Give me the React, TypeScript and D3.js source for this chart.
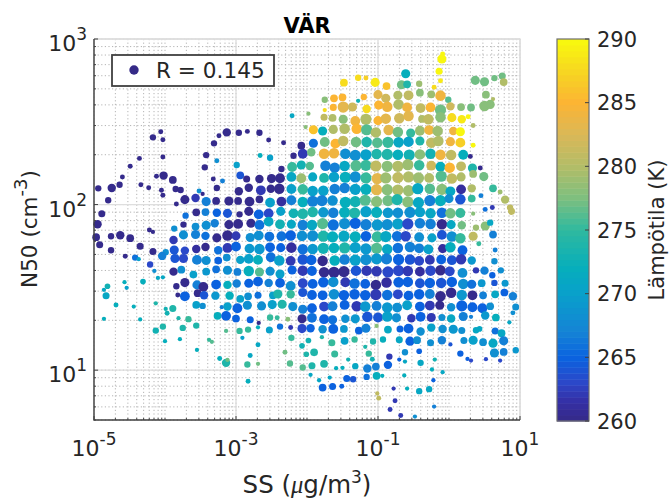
import React, { useEffect, useRef } from 'react';
import * as d3 from 'd3';

// every point: [log10 SS, log10 N50, temperature K, marker size]
type Pt = [number, number, number, number];

const upperLeft: Pt[] = [
  [-4.06,2.44,260,6],[-4.17,2.406,260,8],[-4.03,2.392,260,6],[-3.13,2.436,260,11],[-2.96,2.434,260,8],[-2.84,2.442,260,6],[-2.67,2.434,260,8],[-3.24,2.416,260,6],[-3.31,2.37,260,8],[-2.54,2.39,260,6],[-2.33,2.374,260,6],[-3.42,2.299,260,8],[-4.03,2.287,260,6],[-4.36,2.279,260,6],[-4.49,2.231,260,6],[-3.44,2.225,260,8],[-3.27,2.265,268,6],[-2.99,2.239,270,8],[-2.66,2.297,272,6],[-2.52,2.283,270,8],[-2.36,2.215,260,8],[-2.19,2.295,260,8],[-2.21,2.537,271,6],
];
const leftRow215: Pt[] = [
  [-4.6,2.167,260,6],[-4.12,2.171,260,6],[-4.02,2.175,260,11],[-3.89,2.149,260,10],[-3.32,2.155,260,6],[-3.19,2.143,267,6],[-2.94,2.177,264,10],[-2.85,2.155,260,9],[-2.67,2.155,260,11],[-2.5,2.157,260,12],[-2.38,2.159,260,13],[-2.22,2.167,271,13],[-2.21,2.227,275,13],
];
const leftRow210: Pt[] = [
  [-4.94,2.098,260,8],[-4.75,2.1,260,11],[-4.64,2.12,260,8],[-4.34,2.12,260,6],[-4.23,2.102,260,6],[-4.05,2.086,260,6],[-3.85,2.094,260,8],[-3.78,2.088,260,8],[-3.27,2.1,260,8],[-3.52,2.082,268,6],[-3.47,2.064,260,5],[-2.96,2.08,260,11],[-2.82,2.102,260,11],[-2.65,2.086,262,13],[-2.51,2.096,260,11],[-2.39,2.096,260,14],[-2.22,2.094,270,13],
];
const leftRow202: Pt[] = [
  [-4.8,2.026,260,8],[-4.03,2.056,260,6],[-3.84,2.004,260,6],[-3.72,2.03,260,12],[-3.57,2.04,262,11],[-3.42,2.018,267,12],[-3.28,2.022,260,10],[-3.1,2.022,260,12],[-2.97,2.022,260,10],[-2.81,2.018,260,13],[-2.67,2.032,260,10],[-2.52,2.012,270,13],[-2.36,2.018,261,13],[-2.22,2.026,267,13],
];
const leftRow195: Pt[] = [
  [-4.89,1.945,260,9],[-3.71,1.933,266,8],[-3.56,1.953,260,10],[-3.43,1.955,267,10],[-3.27,1.951,265,11],[-3.12,1.947,264,12],[-2.95,1.941,260,8],[-2.82,1.959,260,12],[-2.68,1.941,265,13],[-2.54,1.947,263,13],[-2.37,1.959,270,12],[-2.19,1.947,273,13],
];
const leftRow188: Pt[] = [
  [-4.95,1.881,260,11],[-3.74,1.879,260,8],[-3.57,1.867,268,10],[-3.42,1.875,268,12],[-3.3,1.887,267,11],[-3.1,1.879,260,12],[-2.97,1.883,260,13],[-2.79,1.887,260,12],[-2.67,1.877,266,13],[-2.54,1.897,271,13],[-2.38,1.881,273,13],[-2.22,1.881,271,12],[-3.87,1.855,268,8],
];
const leftRow181: Pt[] = [
  [-4.22,1.847,260,6],[-4.17,1.835,260,5],[-4.97,1.803,260,10],[-4.76,1.809,260,8],[-4.63,1.815,260,11],[-4.49,1.797,260,10],[-3.88,1.786,262,11],[-3.74,1.817,268,12],[-3.57,1.819,267,12],[-3.43,1.811,266,11],[-3.27,1.799,260,12],[-3.12,1.813,260,14],[-3.0,1.811,262,12],[-2.8,1.801,268,12],[-2.68,1.813,268,13],[-2.53,1.807,266,13],[-2.36,1.809,266,13],[-2.23,1.813,265,14],
];
const leftRow173: Pt[] = [
  [-4.92,1.758,260,9],[-4.76,1.724,260,8],[-4.35,1.748,260,9],[-4.17,1.716,260,9],[-3.99,1.712,268,8],[-4.04,1.69,267,11],[-3.87,1.726,264,12],[-3.72,1.722,263,11],[-3.56,1.732,261,11],[-3.43,1.744,260,11],[-3.25,1.724,266,11],[-3.12,1.738,262,13],[-3.0,1.746,265,13],[-2.81,1.734,269,13],[-2.67,1.732,269,14],[-2.52,1.742,265,13],[-2.37,1.74,265,12],[-2.22,1.74,261,14],
];
const leftRow167: Pt[] = [
  [-4.56,1.688,260,6],[-4.42,1.68,266,8],[-4.37,1.67,270,5],[-3.86,1.674,264,12],[-3.74,1.674,263,12],[-3.55,1.666,267,13],[-3.42,1.662,268,12],[-3.25,1.662,265,10],[-3.13,1.68,268,10],[-2.94,1.666,270,11],[-2.82,1.672,270,13],[-2.69,1.666,272,13],[-2.51,1.682,266,13],[-2.39,1.662,270,14],[-2.23,1.66,262,13],
];
const leftRow160: Pt[] = [
  [-4.21,1.638,263,8],[-4.15,1.599,268,5],[-3.88,1.595,260,11],[-3.77,1.607,268,10],[-3.6,1.577,270,10],[-3.42,1.595,269,10],[-3.28,1.609,266,10],[-3.12,1.603,268,12],[-2.98,1.593,267,10],[-2.82,1.599,272,14],[-2.67,1.593,276,12],[-2.52,1.597,268,12],[-2.38,1.581,270,12],[-2.21,1.605,265,12],
];
const leftRow152: Pt[] = [
  [-4.1,1.557,271,5],[-4.03,1.561,271,5],[-4.31,1.535,272,7],[-4.57,1.531,272,5],[-4.81,1.507,273,7],[-4.86,1.485,271,5],[-4.54,1.497,270,5],[-3.84,1.507,260,8],[-3.72,1.529,260,12],[-3.55,1.515,267,12],[-3.46,1.503,260,13],[-3.28,1.517,265,13],[-3.12,1.515,272,11],[-2.99,1.523,267,11],[-2.82,1.525,265,12],[-2.69,1.535,265,13],[-2.54,1.527,267,11],[-2.38,1.527,265,13],[-2.23,1.509,268,13],
];
const leftRow145: Pt[] = [
  [-4.83,1.45,271,9],[-3.82,1.454,260,6],[-3.72,1.446,265,13],[-3.54,1.465,260,10],[-3.45,1.452,264,11],[-3.29,1.45,269,11],[-3.09,1.45,272,11],[-2.94,1.43,270,10],[-2.83,1.446,268,10],[-2.69,1.452,266,9],[-2.48,1.452,270,10],[-2.41,1.46,274,12],[-2.23,1.458,275,11],
];
const leftRow138: Pt[] = [
  [-4.69,1.394,272,6],[-4.44,1.384,272,5],[-4.13,1.404,274,5],[-3.99,1.37,273,5],[-3.97,1.344,273,6],[-3.89,1.372,274,9],[-3.56,1.394,270,10],[-3.47,1.388,268,8],[-3.2,1.38,267,5],[-3.12,1.384,270,11],[-2.98,1.374,265,13],[-2.84,1.392,268,12],[-2.64,1.388,268,12],[-2.49,1.396,270,12],[-2.35,1.398,274,12],[-2.2,1.384,268,12],
];
const leftRow131: Pt[] = [
  [-4.86,1.31,272,5],[-4.35,1.306,272,5],[-3.81,1.314,274,5],[-3.67,1.308,275,8],[-3.26,1.328,272,10],[-3.14,1.328,265,13],[-3.0,1.312,265,10],[-2.8,1.304,265,9],[-2.68,1.285,260,5],[-2.52,1.318,275,8],[-2.42,1.316,275,6],[-2.27,1.308,278,6],
];
const leftRow125: Pt[] = [
  [-4.03,1.263,274,8],[-4.13,1.239,273,8],[-3.75,1.255,274,8],[-3.56,1.269,274,8],[-3.14,1.237,276,5],[-2.95,1.237,275,8],[-2.83,1.245,275,8],[-2.69,1.259,272,5],[-2.53,1.243,270,9],[-2.38,1.263,266,8],[-2.23,1.257,262,6],
];
const lowerLeft: Pt[] = [
  [-4.0,1.175,272,5],[-3.79,1.187,272,5],[-3.38,1.183,275,5],[-3.34,1.171,276,5],[-2.91,1.195,270,5],[-2.22,1.195,275,8],[-2.69,1.153,271,6],[-3.55,1.122,272,5],[-2.31,1.108,277,6],[-2.8,1.088,271,6],[-3.23,1.07,272,6],[-3.14,1.044,274,11],[-3.12,1.062,277,5],[-2.84,1.034,275,8],[-2.69,1.038,277,5],[-2.24,1.04,276,8],[-2.83,0.933,272,6],
];

const topRight: Pt[] = [
  [-0.61,2.79,272,12],[-0.09,2.909,290,6],[-0.1,2.879,290,12],[-0.14,2.805,290,9],[-0.12,2.748,289,6],[-0.21,2.708,288,6],[-1.28,2.766,288,8],[-1.17,2.764,287,6],[-1.48,2.736,288,10],[-1.04,2.738,289,12],[-0.88,2.716,286,10],[-0.67,2.724,277,12],[-0.59,2.726,274,10],[-0.42,2.73,279,8],[0.37,2.75,277,12],[0.5,2.742,277,12],[0.64,2.764,277,8],[0.75,2.776,277,9],[0.77,2.74,280,10],
  [-0.41,2.676,278,10],[-0.25,2.666,279,10],[-0.12,2.658,284,14],[-1.0,2.664,283,12],[-0.72,2.66,280,12],[-0.57,2.66,281,13],[-0.89,2.642,282,12],[-1.2,2.65,285,8],[-1.5,2.648,285,10],[-1.62,2.642,285,10],[-1.75,2.633,278,8],[-1.28,2.627,273,5],[-0.01,2.633,276,8],[0.52,2.664,278,10],[0.62,2.637,280,5],
];
const rightRow259: Pt[] = [
  [-1.63,2.587,285,9],[-1.49,2.589,283,15],[-1.36,2.589,282,12],[-1.75,2.571,288,5],[-1.16,2.577,288,11],[-0.99,2.601,285,12],[-0.87,2.591,284,14],[-0.71,2.605,280,14],[-0.59,2.587,284,13],[-0.4,2.583,281,13],[-0.26,2.587,285,13],[-0.12,2.571,277,15],[0.02,2.593,282,11],[0.17,2.589,278,10],[0.31,2.587,277,10],[0.5,2.595,278,14],[0.58,2.605,278,12],
];
const rightRow252: Pt[] = [
  [-1.98,2.549,278,5],[-1.76,2.527,281,9],[-1.64,2.523,280,10],[-1.49,2.515,278,12],[-1.32,2.505,284,13],[-1.17,2.515,280,15],[-1.0,2.507,285,12],[-0.89,2.519,283,14],[-0.7,2.521,282,14],[-0.57,2.535,283,14],[-0.38,2.517,280,10],[-0.29,2.515,281,14],[-0.12,2.527,278,14],[0.04,2.525,288,12],[0.18,2.515,289,11],[0.27,2.531,290,6],
];
const rightRow245: Pt[] = [
  [-2.02,2.468,278,5],[-1.91,2.452,286,12],[-1.78,2.444,272,12],[-1.63,2.454,280,12],[-1.47,2.458,280,14],[-1.3,2.458,285,14],[-1.16,2.452,276,15],[-1.03,2.436,280,14],[-0.85,2.45,283,14],[-0.72,2.438,277,14],[-0.54,2.432,275,12],[-0.41,2.446,279,13],[-0.28,2.45,284,13],[-0.16,2.444,279,14],[0.06,2.444,284,11],[0.16,2.44,290,12],[0.34,2.477,280,6],
];
const rightRow238: Pt[] = [
  [-2.08,2.356,260,10],[-1.91,2.37,266,12],[-1.75,2.378,277,13],[-1.6,2.368,285,13],[-1.49,2.384,281,14],[-1.31,2.378,277,14],[-1.16,2.378,274,14],[-1.01,2.374,276,14],[-0.86,2.376,275,15],[-0.71,2.376,271,14],[-0.57,2.38,270,14],[-0.41,2.384,274,12],[-0.25,2.374,281,14],[-0.15,2.384,280,14],[0.02,2.38,284,12],[0.16,2.374,287,13],[0.34,2.358,290,6],
];
const rightRow230: Pt[] = [
  [-2.06,2.307,262,13],[-1.94,2.316,277,11],[-1.76,2.307,284,14],[-1.62,2.31,284,14],[-1.46,2.307,268,14],[-1.32,2.297,268,15],[-1.17,2.301,270,15],[-1.02,2.305,274,14],[-0.87,2.303,274,15],[-0.72,2.301,272,14],[-0.56,2.299,273,15],[-0.41,2.303,278,14],[-0.26,2.307,273,14],[-0.12,2.301,284,14],[0.03,2.299,281,14],[0.2,2.301,272,13],[0.3,2.291,260,6],
];
const rightRow223: Pt[] = [
  [-2.08,2.239,273,12],[-1.96,2.233,276,11],[-1.74,2.235,267,14],[-1.61,2.223,267,14],[-1.47,2.233,271,14],[-1.31,2.235,276,15],[-1.17,2.237,275,15],[-1.03,2.233,281,15],[-0.87,2.231,278,15],[-0.72,2.231,280,15],[-0.58,2.241,279,15],[-0.42,2.237,275,14],[-0.25,2.235,282,13],[-0.12,2.229,272,13],[0.01,2.223,285,14],[0.17,2.231,281,13],[0.33,2.221,274,12],[0.44,2.221,260,6],[0.34,2.185,279,10],
];
const rightRow216: Pt[] = [
  [-2.08,2.159,279,13],[-1.92,2.167,271,12],[-1.76,2.161,274,13],[-1.62,2.167,270,14],[-1.46,2.165,272,15],[-1.32,2.167,268,15],[-1.17,2.161,275,15],[-1.01,2.157,283,15],[-0.89,2.161,279,15],[-0.72,2.163,281,15],[-0.57,2.167,280,15],[-0.43,2.161,279,15],[-0.28,2.161,280,13],[-0.11,2.171,276,15],[0.04,2.157,281,14],[0.17,2.167,280,12],[0.49,2.169,277,12],
];
const rightRow209: Pt[] = [
  [-2.06,2.092,275,14],[-1.92,2.082,270,14],[-1.77,2.084,270,14],[-1.61,2.094,267,14],[-1.47,2.1,267,14],[-1.32,2.092,270,15],[-1.17,2.092,272,15],[-1.02,2.09,283,15],[-0.87,2.09,278,15],[-0.72,2.088,280,15],[-0.57,2.084,279,15],[-0.44,2.096,271,15],[-0.27,2.096,276,14],[-0.1,2.092,278,15],[0.02,2.08,271,13],[0.17,2.092,261,13],[0.32,2.098,280,11],[0.62,2.098,275,10],[0.72,2.076,279,6],
];
const rightRow202: Pt[] = [
  [-2.06,2.016,272,14],[-1.92,2.02,267,15],[-1.79,2.024,267,15],[-1.64,2.024,268,14],[-1.46,2.014,272,15],[-1.32,2.018,273,15],[-1.18,2.026,276,15],[-1.02,2.018,278,15],[-0.86,2.024,277,15],[-0.73,2.03,274,15],[-0.58,2.016,278,15],[-0.43,2.012,271,15],[-0.27,2.024,267,15],[-0.12,2.024,272,15],[0.0,2.036,268,12],[0.16,2.032,264,14],[0.32,2.036,275,10],[0.45,2.054,267,6],[0.79,2.03,280,11],
];
const rightRow195: Pt[] = [
  [-2.06,1.945,274,14],[-1.92,1.955,274,14],[-1.77,1.953,269,14],[-1.63,1.951,267,14],[-1.47,1.953,272,15],[-1.33,1.949,274,15],[-1.17,1.957,270,15],[-1.02,1.953,272,15],[-0.86,1.951,269,14],[-0.72,1.951,268,14],[-0.55,1.953,268,15],[-0.41,1.955,270,14],[-0.26,1.947,271,14],[-0.1,1.951,266,14],[0.02,1.947,277,14],[0.16,1.949,275,13],[0.34,1.945,278,5],[0.51,1.971,266,6],[0.61,1.982,262,6],[0.86,1.982,281,8],[0.88,1.959,281,9],
];
const rightRow188: Pt[] = [
  [-2.06,1.877,267,14],[-1.93,1.877,271,14],[-1.78,1.885,276,15],[-1.63,1.877,266,15],[-1.47,1.885,268,15],[-1.32,1.887,265,15],[-1.17,1.879,267,15],[-1.01,1.877,269,15],[-0.87,1.879,268,15],[-0.72,1.883,270,15],[-0.58,1.883,263,15],[-0.41,1.887,267,14],[-0.26,1.883,267,14],[-0.1,1.881,260,14],[0.03,1.879,271,12],[0.18,1.875,277,11],[0.38,1.861,279,8],[0.51,1.871,278,12],[0.58,1.891,271,8],
];
const rightRow181: Pt[] = [
  [-2.07,1.811,268,14],[-1.92,1.811,268,15],[-1.77,1.809,274,15],[-1.64,1.805,272,15],[-1.48,1.809,271,15],[-1.32,1.805,272,15],[-1.17,1.809,265,14],[-1.01,1.805,275,15],[-0.89,1.807,271,15],[-0.73,1.809,266,14],[-0.61,1.809,263,14],[-0.42,1.803,268,13],[-0.24,1.799,270,12],[-0.1,1.817,264,13],[0.04,1.807,268,14],[0.16,1.797,275,14],[0.34,1.809,281,12],[0.62,1.819,267,10],[0.42,1.764,275,6],
];
const rightRow173: Pt[] = [
  [-2.06,1.73,266,14],[-1.92,1.732,269,14],[-1.77,1.736,273,15],[-1.62,1.738,272,14],[-1.47,1.738,274,15],[-1.32,1.74,270,15],[-1.17,1.732,269,15],[-1.02,1.736,276,15],[-0.87,1.73,271,14],[-0.72,1.738,266,14],[-0.55,1.744,267,14],[-0.42,1.736,267,13],[-0.29,1.73,270,13],[-0.09,1.734,261,12],[0.02,1.742,272,14],[0.19,1.724,265,13],[0.65,1.726,267,6],
];
const rightRow167: Pt[] = [
  [-2.06,1.668,264,14],[-1.94,1.666,265,14],[-1.78,1.66,260,14],[-1.61,1.662,272,14],[-1.47,1.668,267,14],[-1.32,1.664,270,15],[-1.17,1.668,268,15],[-1.02,1.672,269,15],[-0.88,1.672,267,15],[-0.71,1.668,265,15],[-0.55,1.668,264,14],[-0.42,1.66,263,13],[-0.27,1.666,262,13],[-0.11,1.668,265,13],[0.04,1.664,264,13],[0.17,1.67,262,14],[0.32,1.662,269,11],[0.64,1.658,268,8],
];
const rightRow160: Pt[] = [
  [-2.06,1.601,262,14],[-1.93,1.599,265,13],[-1.76,1.591,260,14],[-1.62,1.591,260,15],[-1.48,1.595,260,15],[-1.31,1.601,264,14],[-1.16,1.601,262,14],[-1.02,1.597,262,14],[-0.86,1.593,263,15],[-0.71,1.601,263,15],[-0.58,1.599,262,14],[-0.41,1.595,261,13],[-0.26,1.601,263,14],[-0.12,1.603,260,14],[0.01,1.597,263,13],[0.19,1.587,268,13],[0.38,1.603,262,8],[0.5,1.601,267,11],[0.61,1.573,265,8],[0.73,1.603,268,8],
];
const rightRow152: Pt[] = [
  [-2.06,1.525,263,13],[-1.92,1.521,265,13],[-1.77,1.531,265,14],[-1.63,1.533,268,14],[-1.46,1.531,262,13],[-1.33,1.523,266,14],[-1.18,1.521,265,13],[-1.03,1.515,260,14],[-0.88,1.529,261,14],[-0.71,1.531,265,14],[-0.58,1.533,265,14],[-0.41,1.525,264,13],[-0.27,1.527,265,14],[-0.11,1.527,264,14],[0.04,1.533,265,14],[0.2,1.521,268,14],[0.32,1.519,266,12],[0.46,1.525,269,10],[0.64,1.527,264,8],[0.79,1.525,269,9],
];
const rightRow145: Pt[] = [
  [-2.06,1.469,264,12],[-1.93,1.454,265,13],[-1.78,1.452,265,13],[-1.62,1.458,268,14],[-1.48,1.452,265,14],[-1.33,1.458,265,14],[-1.18,1.452,265,14],[-1.03,1.456,262,15],[-0.87,1.454,266,14],[-0.72,1.458,263,13],[-0.57,1.45,265,13],[-0.42,1.458,265,14],[-0.27,1.46,267,13],[-0.12,1.446,260,14],[0.03,1.467,260,14],[0.18,1.454,269,14],[0.33,1.452,260,13],[0.48,1.452,267,10],[0.65,1.458,271,10],[0.78,1.469,265,10],[0.9,1.446,267,11],
];
const rightRow138: Pt[] = [
  [-2.06,1.368,267,12],[-1.93,1.374,265,13],[-1.76,1.384,263,13],[-1.64,1.386,267,13],[-1.47,1.394,265,13],[-1.3,1.386,262,14],[-1.18,1.384,269,14],[-1.02,1.388,267,13],[-0.87,1.378,269,14],[-0.73,1.378,268,13],[-0.59,1.392,270,13],[-0.41,1.384,265,13],[-0.27,1.39,262,13],[-0.13,1.392,260,12],[0.03,1.38,268,11],[0.18,1.388,265,15],[0.33,1.38,265,13],[0.47,1.374,265,13],[0.58,1.386,268,10],[0.94,1.382,268,9],[0.9,1.346,268,6],[0.51,1.33,269,11],[0.66,1.318,272,10],[0.31,1.322,267,5],[0.85,1.289,271,5],
];
const rightRow131: Pt[] = [
  [-2.07,1.31,260,12],[-1.93,1.316,266,13],[-1.76,1.308,265,13],[-1.64,1.304,266,12],[-1.46,1.31,268,11],[-1.32,1.31,269,12],[-1.15,1.322,264,14],[-1.0,1.318,264,13],[-0.87,1.324,270,14],[-0.74,1.316,268,12],[-0.53,1.314,262,11],[-0.4,1.322,265,13],[-0.25,1.318,262,12],[-0.1,1.318,268,9],[0.03,1.312,271,11],[0.2,1.324,267,12],
];
const rightRow125: Pt[] = [
  [-2.07,1.251,263,12],[-1.95,1.253,265,11],[-1.78,1.247,268,11],[-1.63,1.249,265,13],[-1.48,1.249,269,10],[-1.27,1.239,265,10],[-1.17,1.253,267,12],[-1.02,1.267,278,5],[-0.86,1.245,271,10],[-0.69,1.249,265,9],[-0.57,1.251,265,13],[-0.4,1.233,268,11],[-0.25,1.257,270,11],[-0.09,1.249,268,11],[0.06,1.247,269,12],[0.18,1.239,268,9],[0.38,1.241,271,8],[0.43,1.249,271,7],[0.65,1.237,266,9],[0.74,1.223,271,10],
];
const rightRow118: Pt[] = [
  [-1.98,1.179,273,7],[-1.79,1.199,274,5],[-1.65,1.165,275,9],[-1.47,1.177,270,10],[-1.33,1.185,275,8],[-1.07,1.173,274,8],[-0.93,1.185,272,8],[-0.7,1.183,271,9],[-0.55,1.175,265,12],[-0.45,1.181,268,10],[-0.26,1.165,268,9],[-0.1,1.181,267,11],[0.02,1.155,264,5],[0.21,1.179,268,9],[0.34,1.181,270,12],[0.48,1.169,268,10],[0.62,1.163,271,12],[0.77,1.177,267,12],
];
const rightRow110: Pt[] = [
  [-2.07,1.147,273,7],[-2.01,1.096,274,7],[-1.9,1.108,274,10],[-1.61,1.098,275,9],[-1.18,1.141,274,5],[-1.13,1.1,275,8],[-1.08,1.066,273,6],[-0.84,1.082,262,8],[-0.62,1.108,268,8],[-0.42,1.114,265,7],[0.16,1.1,265,8],[0.64,1.104,268,12],[0.77,1.11,267,10],[0.94,1.12,269,8],[-0.2,1.064,273,5],[0.26,1.068,265,5],[0.31,1.058,263,5],[0.52,1.066,263,5],[0.72,1.058,263,5],
];
const rightRow102: Pt[] = [
  [-2.06,1.016,276,8],[-1.93,1.026,274,9],[-1.76,1.038,274,10],[-1.59,1.012,272,5],[-1.5,1.014,272,5],[-1.42,1.064,273,5],[-1.32,1.024,271,8],[-1.15,1.01,267,11],[-1.03,1.022,267,10],[-0.86,1.032,265,11],[-0.7,1.064,265,5],[-0.62,1.052,271,5],[-0.4,1.044,271,8],[-0.24,1.004,272,5],[-0.09,0.988,271,5],
];
const lowerRight: Pt[] = [
  [-1.95,0.972,271,5],[-1.83,0.939,271,5],[-1.68,0.955,271,5],[-1.44,0.949,265,9],[-1.35,0.945,264,8],[-1.16,0.959,266,8],[-1.02,0.966,272,10],[-0.94,0.966,272,5],[-0.63,0.968,272,5],[-0.22,0.939,265,5],[-1.78,0.895,265,10],[-1.64,0.901,265,9],[-1.51,0.903,265,6],[-0.78,0.889,262,5],[-0.59,0.889,272,5],[-0.42,0.873,271,8],[-0.28,0.885,271,8],[-1.01,0.859,281,5],[-0.99,0.831,281,6],[-0.76,0.815,262,6],[-0.83,0.762,262,6],[-0.21,0.78,267,5],[-0.68,0.726,262,6],[-0.48,0.72,268,5],
];

const allRows = [
  upperLeft, leftRow215, leftRow210, leftRow202, leftRow195, leftRow188, leftRow181, leftRow173, leftRow167,
  leftRow160, leftRow152, leftRow145, leftRow138, leftRow131, leftRow125, lowerLeft,
  topRight, rightRow259, rightRow252, rightRow245, rightRow238, rightRow230, rightRow223, rightRow216, rightRow209,
  rightRow202, rightRow195, rightRow188, rightRow181, rightRow173, rightRow167, rightRow160, rightRow152, rightRow145,
  rightRow138, rightRow131, rightRow125, rightRow118, rightRow110, rightRow102, lowerRight,
];

const xMajor = [1e-5, 1e-3, 1e-1, 10];
const xLabels = ['-5', '-3', '-1', '1'];
const yMajor = [10, 100, 1000];
const yLabels = ['1', '2', '3'];
const cbTicks = [260, 265, 270, 275, 280, 285, 290];
const rLabel = 'R = 0.145';

const parulaT = [260, 261.5, 263, 265, 267, 270, 272, 275, 277.5, 280, 282.5, 285, 287, 290];
const parulaC = ['#352a87', '#352fa5', '#2c47c8', '#0a63e0', '#1583d5', '#09a0cb', '#06aebc', '#2fb99f', '#7dbf7f', '#b3bd67', '#dab857', '#fcb434', '#f7d025', '#f8fa0d'];

const INK = '#262626';
const FONT = '"DejaVu Sans", sans-serif';

export default function App() {
  const svgRef = useRef<SVGSVGElement | null>(null);

  useEffect(() => {
    const svg = d3.select(svgRef.current);
    svg.selectAll('*').remove();

    const margin = { left: 94, right: 520, top: 39, bottom: 420 };
    const x = d3.scaleLog().domain([1e-5, 10]).range([margin.left, margin.right]);
    const y = d3.scaleLog().domain([5, 1000]).range([margin.bottom, margin.top]);
    const size = d3.scaleLinear().domain([0, 15]).range([0.4, 5.6]);
    const tempColor = d3.scaleLinear<string>().domain(parulaT).range(parulaC).clamp(true);
    // 64 colour steps, same as the colorbar
    const step = 30 / 64;
    const quant = (t: number) => tempColor(260 + Math.min(63, Math.floor((t - 260) / step)) * step + step / 2);

    // dotted minor grid
    const grid = svg.append('g');
    grid.selectAll('line.xm').data(x.ticks()).join('line')
      .attr('x1', d => x(d)).attr('x2', d => x(d)).attr('y1', margin.top).attr('y2', margin.bottom)
      .attr('stroke', '#b4b4b4').attr('stroke-width', 1).attr('stroke-dasharray', '1.2 2.4');
    grid.selectAll('line.ym').data(y.ticks()).join('line')
      .attr('class', 'ym')
      .attr('y1', d => y(d)).attr('y2', d => y(d)).attr('x1', margin.left).attr('x2', margin.right)
      .attr('stroke', '#b4b4b4').attr('stroke-width', 1).attr('stroke-dasharray', '1.2 2.4');
    // major grid
    xMajor.forEach(v => {
      grid.append('line').attr('x1', x(v)).attr('x2', x(v)).attr('y1', margin.top).attr('y2', margin.bottom)
        .attr('stroke', '#dedede').attr('stroke-width', 1.3);
    });
    yMajor.forEach(v => {
      grid.append('line').attr('y1', y(v)).attr('y2', y(v)).attr('x1', margin.left).attr('x2', margin.right)
        .attr('stroke', '#dedede').attr('stroke-width', 1.3);
    });

    // points
    svg.append('g').selectAll('circle').data(allRows.flat()).join('circle')
      .attr('cx', d => x(10 ** d[0]))
      .attr('cy', d => y(10 ** d[1]))
      .attr('r', d => size(d[3]))
      .attr('fill', d => quant(d[2]));

    // box + ticks
    svg.append('path').attr('d', `M${margin.left},${margin.top}H${margin.right}V${margin.bottom}`)
      .attr('fill', 'none').attr('stroke', '#dedede').attr('stroke-width', 1.3);
    const box = svg.append('g').attr('stroke', '#404040').attr('fill', 'none');
    box.append('path').attr('d', `M${margin.left},${margin.top}V${margin.bottom}H${margin.right}`).attr('stroke-width', 1.4);
    x.ticks().forEach(v => {
      const major = xMajor.includes(v);
      box.append('line').attr('x1', x(v)).attr('x2', x(v)).attr('y1', margin.bottom).attr('y2', margin.bottom - (major ? 4 : 2)).attr('stroke-width', 1);
    });
    y.ticks().forEach(v => {
      const major = yMajor.includes(v);
      box.append('line').attr('y1', y(v)).attr('y2', y(v)).attr('x1', margin.left).attr('x2', margin.left + (major ? 4 : 2)).attr('stroke-width', 1);
    });

    // tick labels
    xMajor.forEach((v, i) => {
      const t = svg.append('text').attr('x', x(v)).attr('y', 456).attr('text-anchor', 'middle')
        .attr('font-family', FONT).attr('font-size', 22).attr('fill', INK);
      t.append('tspan').text('10');
      t.append('tspan').attr('dy', -11).attr('font-size', 17).text(xLabels[i]);
    });
    yMajor.forEach((v, i) => {
      const t = svg.append('text').attr('x', 87).attr('y', y(v) + 12).attr('text-anchor', 'end')
        .attr('font-family', FONT).attr('font-size', 22).attr('fill', INK);
      t.append('tspan').text('10');
      t.append('tspan').attr('dy', -11).attr('font-size', 17).text(yLabels[i]);
    });

    // title and axis labels
    svg.append('text').attr('x', 307).attr('y', 33).attr('text-anchor', 'middle')
      .attr('font-family', FONT).attr('font-weight', 'bold').attr('font-size', 21).attr('fill', 'black').text('VÄR');

    const xl = svg.append('text').attr('x', 307).attr('y', 493).attr('text-anchor', 'middle')
      .attr('font-family', FONT).attr('font-size', 24.5).attr('fill', INK);
    xl.append('tspan').text('SS (');
    xl.append('tspan').attr('font-style', 'italic').attr('font-family', '"Liberation Serif", serif').text('μ');
    xl.append('tspan').text('g/m');
    xl.append('tspan').attr('dy', -10).attr('font-size', 17).text('3');
    xl.append('tspan').attr('dy', 10).text(')');

    const yl = svg.append('text').attr('transform', 'translate(37,229) rotate(-90)').attr('text-anchor', 'middle')
      .attr('font-family', FONT).attr('font-size', 21.5).attr('fill', INK);
    yl.append('tspan').text('N50 (cm');
    yl.append('tspan').attr('dy', -10).attr('font-size', 18).text('-3');
    yl.append('tspan').attr('dy', 10).text(')');

    // legend
    const lg = svg.append('g');
    lg.append('rect').attr('x', 112).attr('y', 55).attr('width', 162).attr('height', 31)
      .attr('fill', 'white').attr('stroke', '#404040').attr('stroke-width', 1.8);
    lg.append('circle').attr('cx', 134).attr('cy', 70).attr('r', 4.7).attr('fill', parulaC[0]);
    lg.append('text').attr('x', 156).attr('y', 78).attr('font-family', FONT).attr('font-size', 21.6).attr('fill', INK).text(rLabel);

    // colorbar
    const cb = d3.scaleLinear().domain([260, 290]).range([421, 39]);
    const cbX = 557;
    const cbW = 32;
    const bands = d3.range(64).map(i => 260 + i * step);
    svg.append('g').selectAll('rect').data(bands).join('rect')
      .attr('x', cbX).attr('width', cbW)
      .attr('y', d => cb(d + step))
      .attr('height', d => cb(d) - cb(d + step) + 0.5)
      .attr('fill', d => quant(d + step / 2));
    svg.append('rect').attr('x', cbX).attr('y', 39).attr('width', cbW).attr('height', 382)
      .attr('fill', 'none').attr('stroke', '#6e6e6e').attr('stroke-width', 1.2);
    cbTicks.forEach(v => {
      svg.append('line').attr('x1', cbX + cbW - 4).attr('x2', cbX + cbW).attr('y1', cb(v)).attr('y2', cb(v))
        .attr('stroke', '#404040').attr('stroke-width', 1);
      svg.append('text').attr('x', 597).attr('y', cb(v) + 7.5).attr('font-family', FONT).attr('font-size', 21)
        .attr('fill', INK).text(v);
    });
    svg.append('text').attr('transform', 'translate(664,230) rotate(-90)').attr('text-anchor', 'middle')
      .attr('font-family', FONT).attr('font-size', 21).attr('fill', INK).text('Lämpötila (K)');
  }, []);

  return <svg ref={svgRef} width={670} height={498} style={{ position: 'absolute', left: 0, top: 0, background: 'white' }} />;
}
